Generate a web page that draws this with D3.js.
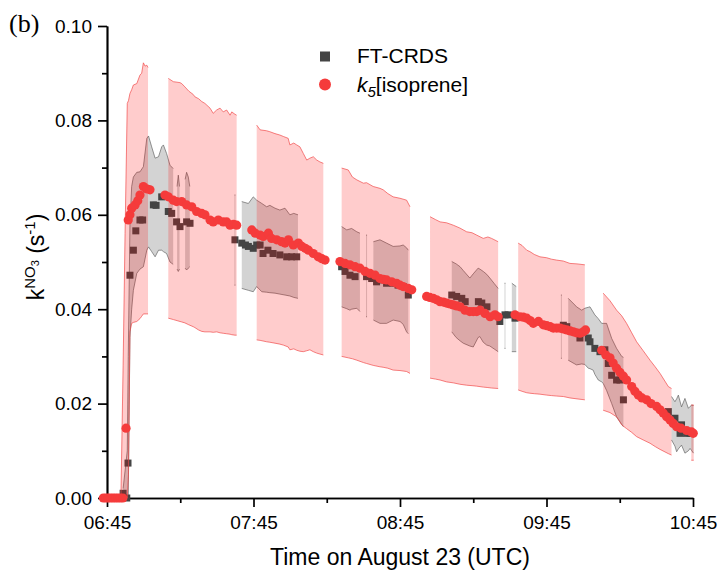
<!DOCTYPE html>
<html>
<head>
<meta charset="utf-8">
<script src="https://cdn.jsdelivr.net/npm/d3@7"></script>
<style>
  body { margin: 0; background: #fff; }
  svg { display: block; font-family: "Liberation Sans", Arial, sans-serif; }
</style>
</head>
<body>
<svg id="chart" width="721" height="572"></svg>
<script>
// times are minutes after 06:45 UTC on 23 August

// k5[isoprene] (red dots)
var isoT = [-1.5, -0.5, 0.5, 1.5, 2.5, 3.5, 4.5, 5.5, 6.5,
  7.8, 8.7, 9.4, 10.1, 11.5, 12.6, 13.5, 14.9, 16.2, 17.6,
  23.75, 25.1, 27.15, 28.5, 30.6, 32.6, 34.7, 36.7, 38.8, 40.1, 42.2, 43.5, 45.6, 47.6, 49, 50.4, 51.8, 53.1,
  59.3, 60.7, 62.7, 64, 66.1, 67.4, 69.5, 71.5, 72.9, 74.3, 76.3, 78.4, 79.8, 81.2, 82.5, 84.5, 86.5, 88, 89.3,
  95.4, 97.5, 99.5, 101.6, 103.6, 105.7, 107.7, 109.8, 111.8, 113.2, 114.5, 116.6, 118.6, 120, 121.3, 123.4, 124.8,
  130.9, 132.2, 133.6, 135, 136.4, 137.8, 139.1, 140.5, 141.8, 143.2, 144.6, 146.6, 148.6, 150, 151.4, 152.8, 154.8, 156.9, 158.9, 160.2,
  167.1, 169.1, 170.5, 171.9, 173.3, 174.6, 176.7, 178.7, 180.1, 181.5, 182.8, 184.2, 185.5, 186.9, 188.3, 189.7, 191, 192.3, 193.7, 195.1, 196,
  202.6, 204.3, 206, 207.3, 208.7, 210.1, 211.5, 212.8, 214.9, 216.2, 217.6, 219.1, 221, 222.8, 225.1, 226.5, 227.8, 229.2, 230.6, 231.9, 233.3, 235.1, 237.4, 239.4, 240.1];
var isoK = [0, 0, 0, 0, 0, 0, 0, 0, 0,
  0.0148, 0.0589, 0.0600, 0.0614, 0.0621, 0.0630, 0.0642, 0.0660, 0.0655, 0.0653,
  0.0642, 0.0638, 0.0631, 0.0628, 0.0628, 0.0621, 0.0617, 0.0607, 0.0603, 0.0600, 0.0589, 0.0585, 0.0589, 0.0585, 0.0585, 0.0578, 0.0580, 0.0578,
  0.0568, 0.0561, 0.0557, 0.0554, 0.0561, 0.0550, 0.0547, 0.0543, 0.0540, 0.0547, 0.0536, 0.0540, 0.0533, 0.0529, 0.0525, 0.0518, 0.0511, 0.0507, 0.0504,
  0.0501, 0.0497, 0.0494, 0.0490, 0.0487, 0.0480, 0.0476, 0.0472, 0.0465, 0.0463, 0.0462, 0.0458, 0.0455, 0.0451, 0.0448, 0.0444, 0.0441,
  0.0427, 0.0425, 0.0423, 0.0420, 0.0416, 0.0415, 0.0413, 0.0411, 0.0409, 0.0407, 0.0405, 0.0398, 0.0395, 0.0395, 0.0395, 0.0398, 0.0391, 0.0384, 0.0388, 0.0384,
  0.0388, 0.0384, 0.0383, 0.0381, 0.0376, 0.0370, 0.0374, 0.0367, 0.0365, 0.0363, 0.0360, 0.0360, 0.0360, 0.0358, 0.0356, 0.0354, 0.0352, 0.0350, 0.0349, 0.0352, 0.0356,
  0.0313, 0.0303, 0.0297, 0.0286, 0.0275, 0.0266, 0.0258, 0.0250, 0.0236, 0.0226, 0.0218, 0.0212, 0.0208, 0.0200, 0.0194, 0.0187, 0.0180, 0.0172, 0.0165, 0.0158, 0.0151, 0.0148, 0.0143, 0.0140, 0.0137];

// FT-CRDS (dark squares)
var ftT = [0.5, 1.5, 2.5, 3.5, 4.5, 5.5, 6.6, 8.1, 8.6,
  9.4, 10.8, 11.8, 13.5, 14.6, 16.3, 19, 20.1, 22.4, 25.1, 26.5, 28.5, 29.9, 32.6, 34,
  52.4, 55.2, 56.7, 57.9, 59.9, 61.3, 62.7, 63.9, 65.9, 68, 70.8, 73.6, 75.6, 77.7,
  96.1, 97.5, 99.5, 101.6, 106.3, 108.4, 110.4, 112.5, 114.5, 117.2, 119.2, 121.3, 123.4,
  141.2, 143.2, 145.3, 146.7, 152.1, 153.5, 155.6, 160.9, 163, 164.3, 167.1,
  186.9, 188.3, 193.7, 197.1, 197.8, 199.8, 201.9, 203.9, 205.3, 206.7, 208.7, 210.1, 211.5,
  229.9, 232.6, 235.3, 234.7, 237.4, 238.8];
var ftK = [0, 0, 0, 0, 0, 0, 0.001, 0, 0.0074,
  0.0472, 0.0525, 0.0566, 0.0589, 0.0589, 0.0655, 0.0621, 0.0620, 0.0638, 0.0607, 0.0603, 0.0585, 0.0575, 0.0585, 0.0582,
  0.0547, 0.0540, 0.0536, 0.0533, 0.0529, 0.0536, 0.0536, 0.0518, 0.0525, 0.0518, 0.0515, 0.0511, 0.0511, 0.0511,
  0.0490, 0.0480, 0.0472, 0.0469, 0.0469, 0.0465, 0.0458, 0.0462, 0.0455, 0.0455, 0.0451, 0.0448, 0.0430,
  0.0430, 0.0427, 0.0423, 0.0416, 0.0416, 0.0413, 0.0405, 0.0374, 0.0388, 0.0388, 0.0381,
  0.0366, 0.0363, 0.0339, 0.0339, 0.0331, 0.0317, 0.0310, 0.0314, 0.0285, 0.0260, 0.0250, 0.0250, 0.0208,
  0.0183, 0.0169, 0.0155, 0.0137, 0.0137, 0.0137];

// uncertainty ranges, one list per drawn block: [minute, low, high]
var isoBand = [
  [[5.7, 0, 0], [6.6, 0, 0.028], [7.4, 0, 0.056], [8.3, 0, 0.0836], [8.8, 0.005, 0.0842], [9.4, 0.0352, 0.0857], [10.1, 0.037, 0.0865],
   [10.8, 0.0372, 0.0875], [12.2, 0.0374, 0.0878], [13.5, 0.038, 0.0896], [14.2, 0.0385, 0.090], [14.9, 0.039, 0.0922], [15.6, 0.039, 0.0915],
   [16.3, 0.039, 0.0917], [16.8, 0.039, 0.0912]],
  [[25.1, 0.0381, 0.0889], [27.2, 0.0378, 0.0882], [29.9, 0.0374, 0.0880], [30.6, 0.0373, 0.0878], [31.9, 0.0371, 0.0871], [33.5, 0.0367, 0.0862],
   [35.3, 0.0363, 0.0855], [36, 0.0361, 0.085], [37.5, 0.0356, 0.0846], [38.8, 0.0353, 0.084], [40.1, 0.0352, 0.0836], [42.2, 0.0352, 0.0826],
   [43.5, 0.0351, 0.0815], [44.9, 0.0352, 0.0822], [46.3, 0.035, 0.0826], [47.6, 0.0349, 0.0818], [49, 0.0348, 0.0822], [50.4, 0.0347, 0.0811],
   [51.1, 0.0346, 0.0818], [52.4, 0.0345, 0.0813], [53.1, 0.0345, 0.0811]],
  [[61.3, 0.0335, 0.079], [62.7, 0.0334, 0.078], [65.4, 0.0331, 0.0778], [66.7, 0.033, 0.0776], [68.8, 0.0328, 0.0772], [70.8, 0.0326, 0.0769],
   [72.2, 0.0324, 0.0766], [74.2, 0.032, 0.0762], [74.9, 0.0314, 0.0748], [76.5, 0.0316, 0.0752], [77.7, 0.0313, 0.0748], [79, 0.0311, 0.0744],
   [80.4, 0.031, 0.073], [81.8, 0.0312, 0.0716], [83.1, 0.0314, 0.072], [84.5, 0.031, 0.0723], [85.9, 0.0307, 0.0716], [87.2, 0.0305, 0.0712],
   [88.6, 0.0303, 0.0709]],
  [[96.1, 0.030, 0.0699], [98.8, 0.0297, 0.0695], [100.5, 0.0295, 0.068], [102.3, 0.0292, 0.0674], [105, 0.0287, 0.0667], [106.3, 0.0285, 0.0668],
   [109, 0.0281, 0.066], [111.8, 0.0278, 0.0656], [113.1, 0.0277, 0.0653], [115, 0.0275, 0.0645], [117.2, 0.0271, 0.0638], [120, 0.027, 0.0635],
   [122.7, 0.0268, 0.0631], [124.1, 0.0264, 0.0617]],
  [[132.3, 0.0254, 0.0596], [134.5, 0.0252, 0.059], [136.4, 0.025, 0.0585], [139.1, 0.0246, 0.0583], [141.8, 0.0244, 0.0578], [144.5, 0.0241, 0.0572],
   [147.3, 0.0239, 0.0564], [149.5, 0.0238, 0.0562], [151.4, 0.0237, 0.0557], [154.1, 0.0235, 0.055], [156, 0.0234, 0.0553], [157.5, 0.0233, 0.055],
   [160.2, 0.0232, 0.0543]],
  [[168.4, 0.0229, 0.054], [170, 0.0226, 0.0535], [171.9, 0.0223, 0.0525], [173.2, 0.0222, 0.0522], [175, 0.0221, 0.0516], [177.3, 0.022, 0.0511],
   [180.1, 0.0218, 0.0509], [182, 0.0217, 0.0506], [184.2, 0.0216, 0.0504], [186.9, 0.0215, 0.0502], [189.6, 0.0212, 0.0497], [192.5, 0.021, 0.0496],
   [195.7, 0.0208, 0.0494]],
  [[203.2, 0.0186, 0.0434], [206, 0.0181, 0.0418], [208.7, 0.0172, 0.0398], [210.8, 0.0155, 0.0386], [212.8, 0.0147, 0.037], [214.9, 0.0139, 0.035],
   [216.9, 0.013, 0.0331], [219.6, 0.0123, 0.0312], [222.4, 0.0116, 0.0292], [224.5, 0.0109, 0.0278], [226.5, 0.0103, 0.0264], [229.9, 0.0094, 0.0236],
   [231.2, 0.0091, 0.0232]],
  [[239.3, 0.008, 0.0197], [240.3, 0.008, 0.0197]]
];

var ftBand = [
  [[6.6, 0, 0.002], [8.3, 0, 0.01], [8.7, 0, 0.03], [9.4, 0.034, 0.058], [10.1, 0.040, 0.066], [10.8, 0.044, 0.068], [12.2, 0.0476, 0.069],
   [13.5, 0.0485, 0.0691], [14.9, 0.049, 0.0702], [16.3, 0.0525, 0.0762], [17, 0.0532, 0.0767], [18.3, 0.0522, 0.0744], [19.7, 0.0511, 0.072],
   [21.1, 0.0525, 0.0723], [22.4, 0.0525, 0.0744], [23.1, 0.0522, 0.0748], [24.4, 0.0518, 0.073], [25.8, 0.050, 0.0705], [27.1, 0.0495, 0.0698]],
  [[28.7, 0.0485, 0.066], [29.2, 0.048, 0.0684], [29.7, 0.0485, 0.066]],
  [[32.0, 0.0487, 0.0675], [32.6, 0.0483, 0.069], [33.3, 0.0487, 0.068], [33.9, 0.049, 0.066]],
  [[52.2, 0.0451, 0.0642], [52.6, 0.0451, 0.0642]],
  [[55.2, 0.0444, 0.0628], [57.9, 0.044, 0.0624], [59.9, 0.0437, 0.0638], [61.3, 0.0448, 0.0631], [63.4, 0.0437, 0.0624], [65.4, 0.0436, 0.0617],
   [66.7, 0.0435, 0.062], [68.8, 0.0434, 0.0614], [70.8, 0.0432, 0.061], [72.9, 0.043, 0.0614], [74.9, 0.0428, 0.060], [76.5, 0.0425, 0.0603],
   [78.2, 0.0423, 0.060]],
  [[96.1, 0.0405, 0.0575], [98.2, 0.0401, 0.0568], [99.5, 0.0398, 0.057], [100.2, 0.04, 0.0571], [102.3, 0.0402, 0.0564], [103.6, 0.0395, 0.0561]],
  [[106.1, 0.0384, 0.0557], [106.5, 0.0384, 0.0557]],
  [[109.1, 0.0377, 0.0543], [111.8, 0.037, 0.0547], [114.5, 0.037, 0.054], [117.2, 0.0377, 0.0533], [120, 0.0374, 0.0534], [121.3, 0.0368, 0.0536],
   [122.7, 0.0352, 0.053], [123.4, 0.0348, 0.0525]],
  [[141.2, 0.0352, 0.0501], [143, 0.034, 0.0496], [144.6, 0.0333, 0.049], [145.9, 0.0328, 0.0482], [148.6, 0.0322, 0.0466], [150, 0.032, 0.0475],
   [152, 0.034, 0.0487], [152.7, 0.0342, 0.0485], [154.1, 0.033, 0.048], [155.5, 0.0324, 0.0474], [156.8, 0.0322, 0.0466], [158.5, 0.0316, 0.0455],
   [160.2, 0.031, 0.0444]],
  [[162.8, 0.0317, 0.0455], [163.2, 0.0317, 0.0455]],
  [[165.8, 0.031, 0.0455], [167.6, 0.031, 0.0448]],
  [[185.9, 0.0296, 0.043], [186.3, 0.0296, 0.043]],
  [[188.9, 0.0292, 0.0423], [191.6, 0.0284, 0.0409], [192.3, 0.0282, 0.0405], [194.4, 0.0284, 0.0398], [195.7, 0.0283, 0.0402], [197.1, 0.0275, 0.0404],
   [197.8, 0.0274, 0.0405], [199.1, 0.0271, 0.0394], [199.8, 0.0262, 0.0388], [201.2, 0.025, 0.038], [202.6, 0.0246, 0.037], [203.2, 0.0243, 0.037],
   [204.6, 0.0228, 0.037], [206.7, 0.020, 0.0338], [208.7, 0.0172, 0.0317], [210.8, 0.0156, 0.030], [211.5, 0.0151, 0.0298]],
  [[231.2, 0.0123, 0.0215], [232.6, 0.011, 0.0204], [233.3, 0.0098, 0.021], [234, 0.0104, 0.0218], [235.3, 0.0112, 0.0193], [236.7, 0.0095, 0.0211],
   [238.1, 0.01, 0.019], [238.8, 0.0105, 0.0194], [239.5, 0.01, 0.0197], [240.2, 0.0095, 0.0196]]
];

var xMajor = [0, 60, 120, 180, 240];
var xMinor = [30, 90, 150, 210];
var yMajor = [0, 0.02, 0.04, 0.06, 0.08, 0.10];
var yMinor = [0.01, 0.03, 0.05, 0.07, 0.09];

var start = new Date(2019, 7, 23, 6, 45);
function clock(m) { return new Date(start.getTime() + m * 60000); }

var svg = d3.select('#chart');

var x = d3.scaleTime().domain([clock(0), clock(240)]).range([107, 693]);
var y = d3.scaleLinear().domain([0, 0.1]).range([498, 26]);

// axes
svg.append('g')
    .attr('transform', 'translate(0,498)')
    .call(d3.axisBottom(x).tickValues(xMajor.map(clock))
      .tickFormat(d3.timeFormat('%H:%M')).tickSize(9).tickSizeOuter(0).tickPadding(9));
svg.append('g')
    .attr('transform', 'translate(0,498)')
    .call(d3.axisBottom(x).tickValues(xMinor.map(clock)).tickFormat('').tickSize(5).tickSizeOuter(0));
svg.append('g')
    .attr('transform', 'translate(107,0)')
    .call(d3.axisLeft(y).tickValues(yMajor).tickFormat(d3.format('.2f'))
      .tickSize(9).tickSizeOuter(0).tickPadding(6));
svg.append('g')
    .attr('transform', 'translate(107,0)')
    .call(d3.axisLeft(y).tickValues(yMinor).tickFormat('').tickSize(5).tickSizeOuter(0));

svg.selectAll('.domain, .tick line').attr('stroke', '#000').attr('stroke-width', 1.7);
svg.selectAll('.tick text')
    .attr('font-size', 19)
    .attr('font-family', '"Liberation Sans", Arial, sans-serif')
    .attr('fill', '#000');

// axis titles
svg.append('text')
    .attr('x', 400).attr('y', 565)
    .attr('text-anchor', 'middle')
    .attr('font-size', 23)
    .text('Time on August 23 (UTC)');

var yt = svg.append('text')
    .attr('transform', 'translate(44,257) rotate(-90)')
    .attr('text-anchor', 'middle')
    .attr('font-size', 23);
yt.append('tspan').text('k');
yt.append('tspan').attr('font-size', 15).attr('dy', -9).text('NO');
yt.append('tspan').attr('font-size', 11).attr('dy', 4).text('3');
yt.append('tspan').attr('dy', 5).text(' (s');
yt.append('tspan').attr('font-size', 15).attr('dy', -9).text('-1');
yt.append('tspan').attr('dy', 9).text(')');

svg.append('text')
    .attr('x', 9).attr('y', 32)
    .attr('font-family', '"Liberation Serif", "Times New Roman", serif')
    .attr('font-size', 26)
    .text('(b)');

// bands
var band = d3.area()
    .x(function (d) { return x(clock(d[0])); })
    .y0(function (d) { return y(d[1]); })
    .y1(function (d) { return y(d[2]); });
var lowEdge = d3.line()
    .x(function (d) { return x(clock(d[0])); })
    .y(function (d) { return y(d[1]); });
var highEdge = d3.line()
    .x(function (d) { return x(clock(d[0])); })
    .y(function (d) { return y(d[2]); });

function drawBands(segs, fill, stroke) {
  var g = svg.append('g');
  g.selectAll('path.fill').data(segs).enter().append('path')
      .attr('class', 'fill').attr('d', band).attr('fill', fill);
  g.selectAll('path.lo').data(segs).enter().append('path')
      .attr('class', 'lo').attr('d', lowEdge)
      .attr('fill', 'none').attr('stroke', stroke).attr('stroke-width', 0.8);
  g.selectAll('path.hi').data(segs).enter().append('path')
      .attr('class', 'hi').attr('d', highEdge)
      .attr('fill', 'none').attr('stroke', stroke).attr('stroke-width', 0.8);
}

drawBands(ftBand, 'rgba(120,120,120,0.33)', 'rgba(90,90,90,0.8)');

svg.append('g').selectAll('rect')
    .data(ftT)
  .enter().append('rect')
    .attr('x', function (d) { return x(clock(d)) - 3.5; })
    .attr('y', function (d, i) { return y(ftK[i]) - 3.5; })
    .attr('width', 7).attr('height', 7)
    .attr('fill', '#444');

drawBands(isoBand, 'rgba(255,0,0,0.2)', 'rgba(240,70,70,0.85)');

svg.append('g').selectAll('circle')
    .data(isoT)
  .enter().append('circle')
    .attr('cx', function (d) { return x(clock(d)); })
    .attr('cy', function (d, i) { return y(isoK[i]); })
    .attr('r', 4.6)
    .attr('fill', '#f53b3b');

// legend
var legend = svg.append('g').attr('font-size', 21);
legend.append('rect').attr('x', 320).attr('y', 51.5).attr('width', 10).attr('height', 10).attr('fill', '#444');
legend.append('text').attr('x', 357).attr('y', 63).text('FT-CRDS');
legend.append('circle').attr('cx', 325).attr('cy', 84.5).attr('r', 6).attr('fill', '#f53b3b');
var lt = legend.append('text').attr('x', 357).attr('y', 92);
lt.append('tspan').attr('font-style', 'italic').text('k');
lt.append('tspan').attr('font-style', 'italic').attr('font-size', 15).attr('dy', 5).text('5');
lt.append('tspan').attr('dy', -5).text('[isoprene]');
</script>
</body>
</html>
